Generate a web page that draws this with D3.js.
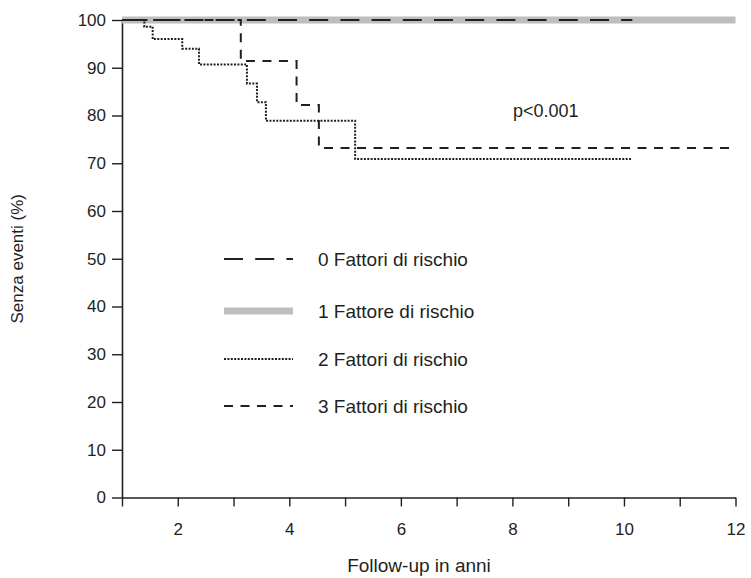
<!DOCTYPE html>
<html>
<head>
<meta charset="utf-8">
<script src="https://cdn.jsdelivr.net/npm/d3@7"></script>
<style>
  body { margin: 0; background: #fff; }
  svg { display: block; font-family: "Liberation Sans", Arial, sans-serif; }
</style>
</head>
<body>
<svg id="chart"></svg>
<script>
// curve data (Kaplan-Meier steps)
const groupLabels = ["0 Fattori di rischio", "1 Fattore di rischio", "2 Fattori di rischio", "3 Fattori di rischio"];
const times0 = [1, 10.15];
const surv0 = [100, 100];
const times1 = [1, 12];
const surv1 = [100, 100];
const times2 = [1, 1.4, 1.55, 2.08, 2.38, 3.24, 3.42, 3.58, 5.18, 10.15];
const surv2 = [100, 98.6, 96.0, 94.0, 90.7, 86.7, 82.8, 78.9, 70.9, 70.9];
const times3 = [1, 3.13, 4.13, 4.53, 12];
const surv3 = [100, 91.4, 82.2, 73.2, 73.2];
const yTicks = [0, 10, 20, 30, 40, 50, 60, 70, 80, 90, 100];
const xTicks = [1, 2, 3, 4, 5, 6, 7, 8, 9, 10, 11, 12];
const pLabel = "p<0.001";

const W = 751, H = 578;
const ink = '#231f20';

const svg = d3.select('#chart').attr('width', W).attr('height', H);

const x = d3.scaleLinear().domain([1, 12]).range([122, 735.5]);
const y = d3.scaleLinear().domain([0, 100]).range([497.5, 20]);

// axes
const yAxis = d3.axisLeft(y).tickValues(yTicks).tickSize(10).tickPadding(6).tickSizeOuter(0);
const xAxis = d3.axisBottom(x).tickValues(xTicks).tickSize(9).tickPadding(16).tickSizeOuter(0)
    .tickFormat(d => d % 2 === 0 ? d : '');

const gy = svg.append('g').attr('transform', `translate(${x(1)},0)`).call(yAxis);
const gx = svg.append('g').attr('transform', `translate(0,${y(0)})`).call(xAxis);

[gx, gy].forEach(g => {
    g.select('.domain').attr('stroke', ink).attr('stroke-width', 1.6);
    g.selectAll('.tick line').attr('stroke', ink).attr('stroke-width', 1.4);
    g.selectAll('.tick text').attr('fill', ink).style('font-size', '17px')
        .style('font-family', '"Liberation Sans", Arial, sans-serif');
});

svg.append('text')
    .attr('x', 419).attr('y', 572)
    .attr('text-anchor', 'middle')
    .attr('fill', ink).style('font-size', '19px')
    .text('Follow-up in anni');

svg.append('text')
    .attr('transform', `translate(23,${(y(0) + y(100)) / 2}) rotate(-90)`)
    .attr('text-anchor', 'middle')
    .attr('fill', ink).style('font-size', '17px')
    .text('Senza eventi (%)');

svg.append('text')
    .attr('x', 513).attr('y', 117)
    .attr('fill', ink).style('font-size', '18px')
    .text(pLabel);

// curves
const styles = [
    { color: ink, width: 2.2, dash: '19,12.2' },
    { color: '#bcbec0', width: 7, dash: null },
    { color: ink, width: 2, dash: '2,1.4' },
    { color: ink, width: 2, dash: '9,7.5' }
];

const groups = [
    d3.zip(times0, surv0),
    d3.zip(times1, surv1),
    d3.zip(times2, surv2),
    d3.zip(times3, surv3)
];

const line = d3.line()
    .x(d => x(d[0]))
    .y(d => y(d[1]))
    .curve(d3.curveStepAfter);

const drawOrder = [1, 3, 2, 0];
drawOrder.forEach(i => {
    svg.append('path')
        .datum(groups[i])
        .attr('d', line)
        .attr('fill', 'none')
        .attr('stroke', styles[i].color)
        .attr('stroke-width', styles[i].width)
        .attr('stroke-dasharray', styles[i].dash);
});

// legend
const legendY = [259, 311, 359, 406];
const legend = svg.append('g');
groupLabels.forEach((lab, i) => {
    const s = styles[i];
    legend.append('line')
        .attr('x1', 224).attr('x2', 293)
        .attr('y1', legendY[i]).attr('y2', legendY[i])
        .attr('stroke', s.color)
        .attr('stroke-width', s.width)
        .attr('stroke-dasharray', s.dash);
    legend.append('text')
        .attr('x', 318).attr('y', legendY[i] + 6.5)
        .attr('fill', ink).style('font-size', '19px')
        .text(lab);
});
</script>
</body>
</html>
